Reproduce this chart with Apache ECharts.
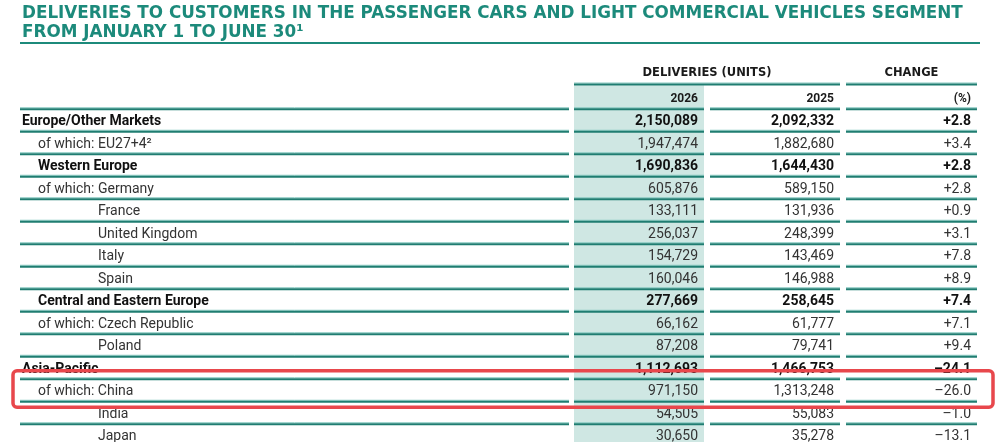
<!DOCTYPE html>
<html lang="en">
<head>
<meta charset="UTF-8">
<title>Deliveries to customers</title>
<script src="https://cdn.jsdelivr.net/npm/echarts@6/dist/echarts.min.js"></script>
<style>
  html, body { margin: 0; padding: 0; background: #fff; }
  #chart { width: 1000px; height: 442px; }
</style>
</head>
<body>
<div id="chart"></div>
<script>
// table rows, top to bottom
var regions = ['Europe/Other Markets', 'EU27+4\u00b2', 'Western Europe', 'Germany', 'France',
  'United Kingdom', 'Italy', 'Spain', 'Central and Eastern Europe', 'Czech Republic',
  'Poland', 'Asia-Pacific', 'China', 'India', 'Japan'];
// total / subtotal = bold, ofwhich = "of which:" + aligned name, inline = "of which: name"
var rowType = ['total', 'ofwhich', 'subtotal', 'ofwhich', 'country',
  'country', 'country', 'country', 'subtotal', 'ofwhich',
  'country', 'total', 'inline', 'country', 'country'];
var deliveries2026 = [2150089, 1947474, 1690836, 605876, 133111, 256037, 154729, 160046,
  277669, 66162, 87208, 1112693, 971150, 54505, 30650];
var deliveries2025 = [2092332, 1882680, 1644430, 589150, 131936, 248399, 143469, 146988,
  258645, 61777, 79741, 1466753, 1313248, 55083, 35278];
var changePct = [2.8, 3.4, 2.8, 2.8, 0.9, 3.1, 7.8, 8.9, 7.4, 7.1, 9.4, -24.1, -26.0, -1.0, -13.1];
var years = ['2026', '2025'];
var highlighted = ['China'];

var TEAL = '#1c8a7b';
var LINE = '#1f7d71';
var LINE_LIGHT = '#86c9c0';
var SHADE = '#cfe7e3';
var BODY = 'Roboto, sans-serif';

// column edges in page pixels (x axis runs 0..1000)
var colLabel = [20, 569], col26 = [574, 704], col25 = [710, 840], colChg = [846, 977];
var segs = [colLabel, col26, col25, colChg];

// row 0 = column headings, row 1 = years, then one row per region
var rowCount = regions.length + 2;

function fmt(n) { return n.toLocaleString('en-US'); }
function fmtChg(v) { return (v >= 0 ? '+' : '\u2013') + Math.abs(v).toFixed(1); }

function txt(s, x, y, align, size, bold, color, family) {
  return {
    type: 'text', z2: 10,
    style: {
      text: s, x: x, y: y, align: align, verticalAlign: 'middle',
      fontSize: size, fontWeight: bold ? 'bold' : 'normal',
      fontFamily: family || BODY, fill: color
    }
  };
}
function hline(x1, x2, y) {
  return [
    { type: 'line', z2: 5, shape: { x1: x1, y1: y - 1, x2: x2, y2: y - 1 }, style: { stroke: LINE_LIGHT, lineWidth: 1 } },
    { type: 'line', z2: 6, shape: { x1: x1, y1: y + 0.5, x2: x2, y2: y + 0.5 }, style: { stroke: LINE, lineWidth: 2 } }
  ];
}

function renderRow(params, api) {
  var i = api.value(1);
  var yc = api.coord([0, i])[1];
  var h = Math.abs(api.size([0, 1])[1]);
  var X = function (v) { return api.coord([v, i])[0]; };
  var kids = [];
  var bottom = yc + h / 2;
  var ty = yc + 1.5; // text sits a little below the row middle

  if (i === 0) {
    kids.push(txt('DELIVERIES (UNITS)', (X(col26[0]) + X(col25[1])) / 2, yc - 2, 'center', 11.5, true, '#1a1a1a', 'DejaVu Sans'));
    kids.push(txt('CHANGE', (X(colChg[0]) + X(colChg[1])) / 2, yc - 2, 'center', 11.5, true, '#1a1a1a', 'DejaVu Sans'));
    kids = kids.concat(hline(X(col26[0]), X(col25[1]), yc + 9));
    kids = kids.concat(hline(X(colChg[0]), X(colChg[1]), yc + 9));
    return { type: 'group', children: kids };
  }

  if (i === 1) {
    var top = yc - h / 2 - 1;
    kids.push({ type: 'rect', z2: 1, shape: { x: X(col26[0]), y: top, width: X(col26[1]) - X(col26[0]), height: bottom - top }, style: { fill: SHADE } });
    kids.push(txt(years[0], X(col26[1]) - 6, ty, 'right', 12, true, '#1a1a1a'));
    kids.push(txt(years[1], X(col25[1]) - 6, ty, 'right', 12, true, '#1a1a1a'));
    kids.push(txt('(%)', X(colChg[1]) - 6, ty, 'right', 12, true, '#1a1a1a'));
    segs.forEach(function (s) { kids = kids.concat(hline(X(s[0]), X(s[1]), bottom)); });
    return { type: 'group', children: kids };
  }

  var r = i - 2;
  var type = rowType[r];
  var bold = type === 'total' || type === 'subtotal';
  var col = bold ? '#111' : '#333';

  kids.push({ type: 'rect', z2: 1, shape: { x: X(col26[0]), y: yc - h / 2, width: X(col26[1]) - X(col26[0]), height: h }, style: { fill: SHADE } });

  if (type === 'total') kids.push(txt(regions[r], X(22), ty, 'left', 14, true, col));
  else if (type === 'subtotal') kids.push(txt(regions[r], X(38), ty, 'left', 14, true, col));
  else if (type === 'ofwhich') {
    kids.push(txt('of which:', X(38), ty, 'left', 14, false, col));
    kids.push(txt(regions[r], X(98), ty, 'left', 14, false, col));
  } else if (type === 'inline') kids.push(txt('of which: ' + regions[r], X(38), ty, 'left', 14, false, col));
  else kids.push(txt(regions[r], X(98), ty, 'left', 14, false, col));

  kids.push(txt(fmt(deliveries2026[r]), X(col26[1]) - 6, ty, 'right', 14, bold, col));
  kids.push(txt(fmt(deliveries2025[r]), X(col25[1]) - 6, ty, 'right', 14, bold, col));
  kids.push(txt(fmtChg(changePct[r]), X(colChg[1]) - 6, ty, 'right', 14, bold, col));

  segs.forEach(function (s) { kids = kids.concat(hline(X(s[0]), X(s[1]), bottom)); });

  if (highlighted.indexOf(regions[r]) >= 0) {
    kids.push({
      type: 'rect', z2: 50,
      shape: { x: X(colLabel[0]) - 7, y: yc - h / 2 - 8, width: X(colChg[1]) - X(colLabel[0]) + 23, height: h + 14, r: 4 },
      style: { fill: 'none', stroke: '#e8474c', lineWidth: 3.5 }
    });
  }
  return { type: 'group', children: kids };
}

var chart = echarts.init(document.getElementById('chart'));
chart.setOption({
  animation: false,
  title: {
    text: 'DELIVERIES TO CUSTOMERS IN THE PASSENGER CARS AND LIGHT COMMERCIAL VEHICLES SEGMENT\nFROM JANUARY 1 TO JUNE 30\u00b9',
    left: 22, top: 4, padding: 0,
    textStyle: { fontFamily: 'DejaVu Sans', fontWeight: 'bold', fontSize: 16.8, lineHeight: 19, color: TEAL }
  },
  graphic: [{
    type: 'line', shape: { x1: 20, y1: 43, x2: 980, y2: 43 },
    style: { stroke: TEAL, lineWidth: 2 }
  }],
  // rows are 22.5px tall; the last row runs past the bottom edge, as in the source
  grid: { left: 0, right: 0, top: 63.75, bottom: 0 },
  xAxis: { type: 'value', min: 0, max: 1000, show: false },
  yAxis: { type: 'value', inverse: true, min: -0.5, max: 16.31, show: false },
  series: [{
    type: 'custom',
    renderItem: renderRow,
    encode: { x: 0, y: 1 },
    clip: false,
    data: Array.from({ length: rowCount }, function (_, i) { return [0, i]; })
  }]
});
</script>
</body>
</html>
